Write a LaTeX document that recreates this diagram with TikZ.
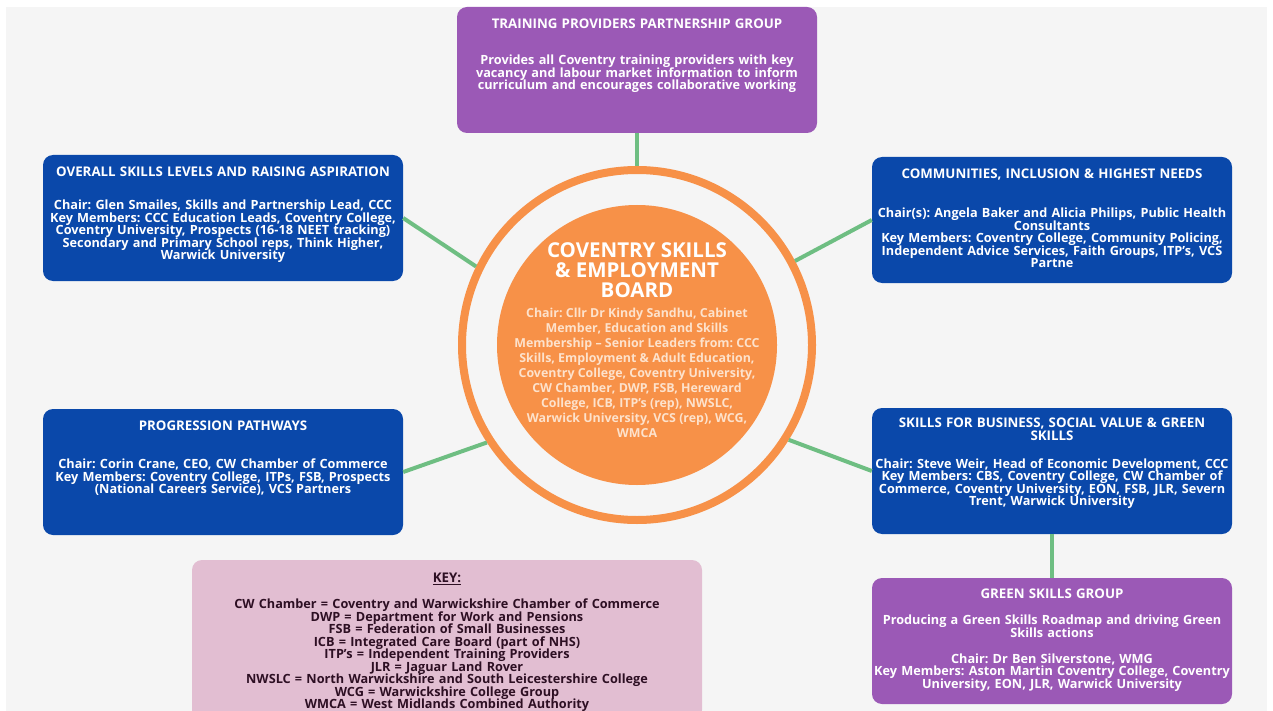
\documentclass[tikz,border=0pt]{standalone}
\usepackage{fontspec}
\setmainfont{Open Sans}
\frenchspacing
\usetikzlibrary{positioning}

\definecolor{paper}{RGB}{245,245,245}
\definecolor{groupPurple}{RGB}{155,89,182}
\definecolor{groupBlue}{RGB}{10,72,170}
\definecolor{boardOrange}{RGB}{247,145,72}
\definecolor{boardInk}{RGB}{253,226,204}
\definecolor{linkGreen}{RGB}{110,190,130}
\definecolor{keyPink}{RGB}{226,190,210}
\definecolor{keyInk}{RGB}{45,15,35}

\newcommand{\groupfont}{\bfseries\fontsize{12.7}{12.5}\selectfont\lineskiplimit=-20pt}
\newcommand{\grouptitle}[1]{{\fontsize{13.3}{12.5}\selectfont #1}}
\newcommand{\boardtitlefont}{\bfseries\fontsize{20.5}{20}\selectfont\lineskiplimit=-20pt}
\newcommand{\boardbodyfont}{\bfseries\fontsize{12.4}{15}\selectfont\lineskiplimit=-20pt}

\begin{document}
\begin{tikzpicture}[x=1pt,y=-1pt]
	\tikzstyle{group} = [rectangle, rounded corners=10pt, minimum width=360pt,
	minimum height=126pt, inner sep=0pt]
	\tikzstyle{groupText} = [text width=380pt, align=center, text=white,
	font=\groupfont, inner sep=0pt]
	\tikzstyle{link} = [line width=4pt, draw=linkGreen]
	\useasboundingbox (0,0) rectangle (1273,711);
	\fill [paper] (6,7) rectangle (1267,711);
	% board in the middle
	\node (ring) [circle, draw=boardOrange, line width=8pt, minimum size=350pt] at (637,345) {};
	\node (board) [circle, fill=boardOrange, minimum size=280pt] at (637,345) {};
	\node (boardTitle) [align=center, text=white, font=\boardtitlefont, inner sep=0pt, anchor=north]
	at (637,242) {COVENTRY SKILLS\\ \& EMPLOYMENT\\ BOARD};
	\node (boardBody) [align=center, text=boardInk, font=\boardbodyfont, inner sep=0pt, anchor=north]
	at (637,308) {Chair: Cllr Dr Kindy Sandhu, Cabinet\\ Member, Education and Skills\\
	Membership – Senior Leaders from: CCC\\ Skills, Employment \& Adult Education,\\
	Coventry College, Coventry University,\\ CW Chamber, DWP, FSB, Hereward\\
	College, ICB, ITP’s (rep), NWSLC,\\ Warwick University, VCS (rep), WCG,\\ WMCA};
	% groups
	\node (training) [group, fill=groupPurple] at (637,70) {};
	\node (trainingText) [groupText, below=12pt] at (training.north)
	{\grouptitle{TRAINING PROVIDERS PARTNERSHIP GROUP}\\[23.5pt]
	Provides all Coventry training providers with key\\
	vacancy and labour market information to inform\\
	curriculum and encourages collaborative working};
	\node (overall) [group, fill=groupBlue] at (223,218) {};
	\node (overallText) [groupText, below=12pt] at (overall.north)
	{\grouptitle{OVERALL SKILLS LEVELS AND RAISING ASPIRATION}\\[20.5pt]
	Chair: Glen Smailes, Skills and Partnership Lead, CCC\\
	Key Members: CCC Education Leads, Coventry College,\\
	Coventry University, Prospects (16-18 NEET tracking)\\
	Secondary and Primary School reps, Think Higher,\\
	Warwick University};
	\node (community) [group, fill=groupBlue] at (1052,220) {};
	\node (communityText) [groupText, below=12pt] at (community.north)
	{\grouptitle{COMMUNITIES, INCLUSION \& HIGHEST NEEDS}\\[26.5pt]
	Chair(s): Angela Baker and Alicia Philips, Public Health\\
	Consultants\\
	Key Members: Coventry College, Community Policing,\\
	Independent Advice Services, Faith Groups, ITP’s, VCS\\
	Partne};
	\node (progression) [group, fill=groupBlue] at (223,472) {};
	\node (progressionText) [groupText, below=12pt] at (progression.north)
	{\grouptitle{PROGRESSION PATHWAYS}\\[25.5pt]
	Chair: Corin Crane, CEO, CW Chamber of Commerce\\
	Key Members: Coventry College, ITPs, FSB, Prospects\\
	(National Careers Service), VCS Partners};
	\node (business) [group, fill=groupBlue] at (1052,471) {};
	\node (businessText) [groupText, below=10pt] at (business.north)
	{\grouptitle{SKILLS FOR BUSINESS, SOCIAL VALUE \& GREEN}\\
	\grouptitle{SKILLS}\\[15.5pt]
	Chair: Steve Weir, Head of Economic Development, CCC\\
	Key Members: CBS, Coventry College, CW Chamber of\\
	Commerce, Coventry University, EON, FSB, JLR, Severn\\
	Trent, Warwick University};
	\node (greenSkills) [group, fill=groupPurple] at (1052,641) {};
	\node (greenSkillsText) [groupText, below=11pt] at (greenSkills.north)
	{\grouptitle{GREEN SKILLS GROUP}\\[13.5pt]
	Producing a Green Skills Roadmap and driving Green\\
	Skills actions\\[13.5pt]
	Chair: Dr Ben Silverstone, WMG\\
	Key Members: Aston Martin Coventry College, Coventry\\
	University, EON, JLR, Warwick University};
	% key
	\node (key) [group, fill=keyPink, minimum width=510pt, minimum height=160pt] at (447,640) {};
	\node (keyText) [groupText, text=keyInk, text width=500pt, below=13pt] at (key.north)
	{\grouptitle{\underline{KEY:}}\\[13.5pt]
	CW Chamber = Coventry and Warwickshire Chamber of Commerce\\
	DWP = Department for Work and Pensions\\
	FSB = Federation of Small Businesses\\
	ICB = Integrated Care Board (part of NHS)\\
	ITP’s = Independent Training Providers\\
	JLR = Jaguar Land Rover\\
	NWSLC = North Warwickshire and South Leicestershire College\\
	WCG = Warwickshire College Group\\
	WMCA = West Midlands Combined Authority};
	% links
	\draw [link] (training) -- (ring);
	\draw [link] (overall.east) -- (ring.154);
	\draw [link] (community.west) -- (ring.28);
	\draw [link] (progression.east) -- (ring.213);
	\draw [link] (business.west) -- (ring.328);
	\draw [link] (business) -- (greenSkills);
\end{tikzpicture}
\end{document}
